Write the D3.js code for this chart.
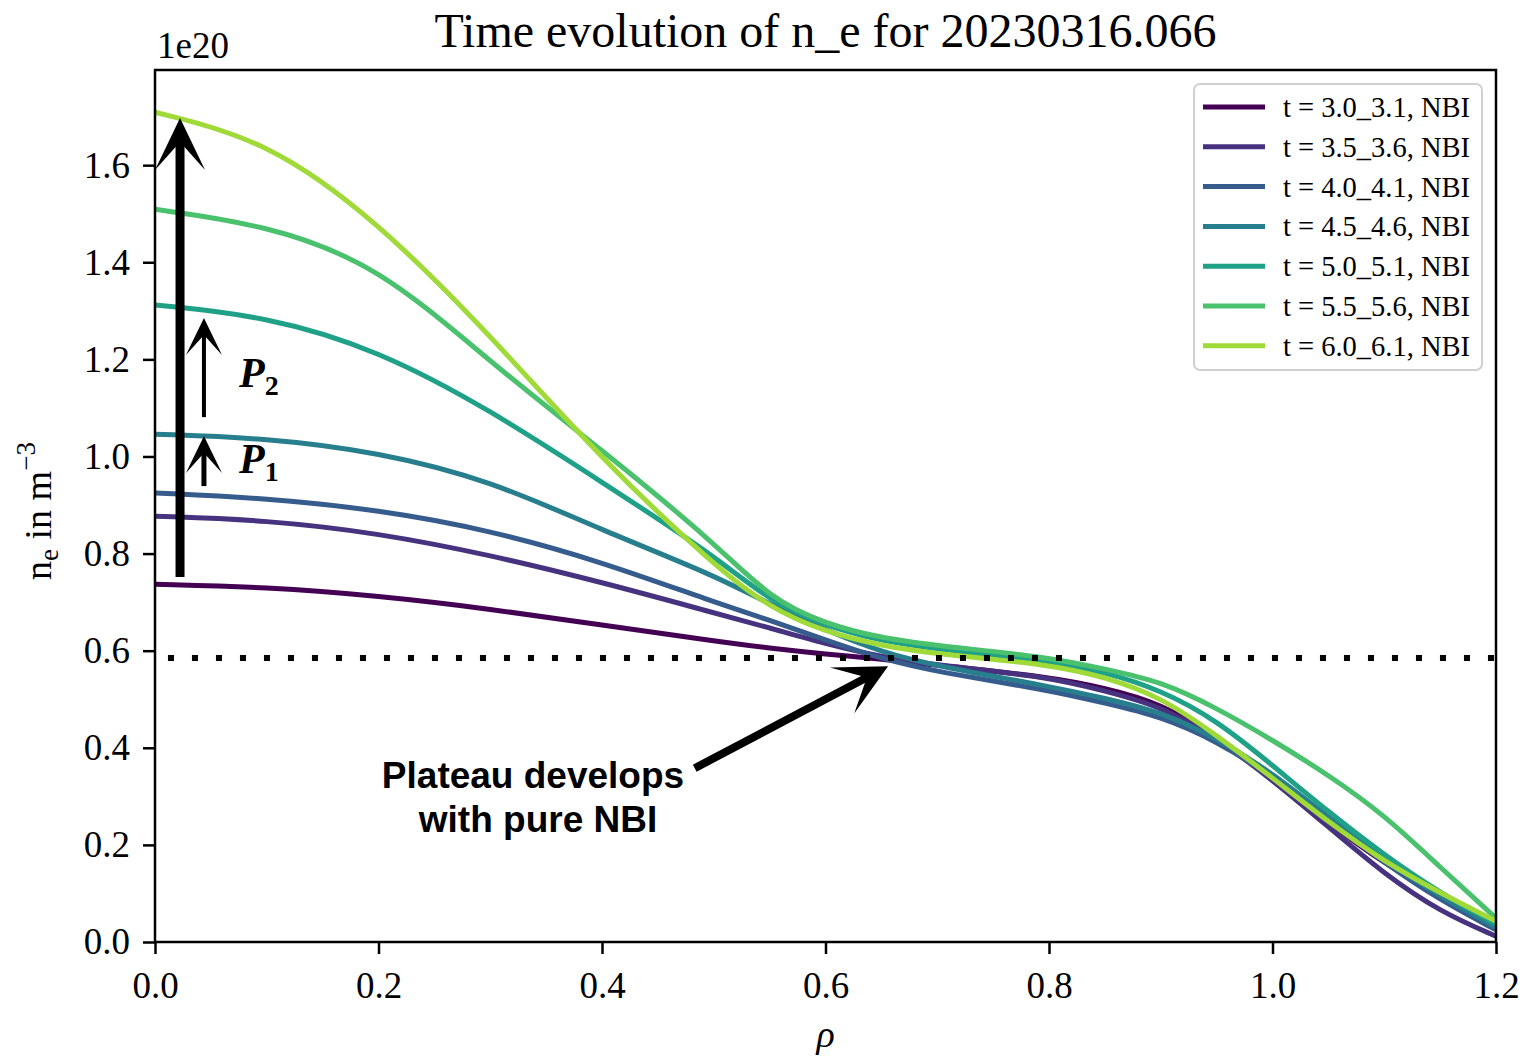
<!DOCTYPE html>
<html>
<head>
<meta charset="utf-8">
<title>Time evolution of n_e</title>
<script src="https://d3js.org/d3.v7.min.js"></script>
<style>
  body { margin: 0; background: #fff; }
  svg { display: block; font-family: "Liberation Serif", "Times New Roman", serif; }
</style>
</head>
<body>
<div id="chart"></div>
<script>
// radial grid shared by every profile
var rho = [0, 0.1, 0.2, 0.3, 0.4, 0.5, 0.55, 0.6, 0.65, 0.7, 0.8, 0.85, 0.9, 0.95, 1.0, 1.05, 1.1, 1.15, 1.2];

// n_e profiles in units of 1e20 m^-3
var ne_30 = [0.737, 0.731, 0.713, 0.686, 0.653, 0.620, 0.605, 0.593, 0.583, 0.570, 0.546, 0.523, 0.492, 0.422, 0.338, 0.245, 0.161, 0.097, 0.035];
var ne_35 = [0.877, 0.869, 0.842, 0.797, 0.741, 0.678, 0.647, 0.614, 0.587, 0.570, 0.546, 0.517, 0.486, 0.420, 0.334, 0.237, 0.140, 0.062, 0.012];
var ne_40 = [0.925, 0.914, 0.890, 0.848, 0.783, 0.700, 0.663, 0.622, 0.583, 0.556, 0.519, 0.492, 0.465, 0.414, 0.342, 0.251, 0.163, 0.086, 0.025];
var ne_45 = [1.046, 1.038, 1.009, 0.951, 0.848, 0.756, 0.696, 0.642, 0.597, 0.568, 0.527, 0.502, 0.474, 0.420, 0.348, 0.257, 0.169, 0.093, 0.031];
var ne_50 = [1.312, 1.289, 1.219, 1.096, 0.947, 0.797, 0.702, 0.651, 0.620, 0.603, 0.579, 0.556, 0.519, 0.457, 0.364, 0.268, 0.179, 0.101, 0.037];
var ne_55 = [1.509, 1.477, 1.394, 1.194, 1.013, 0.824, 0.708, 0.655, 0.626, 0.610, 0.587, 0.562, 0.537, 0.482, 0.416, 0.344, 0.262, 0.154, 0.049];
var ne_60 = [1.709, 1.652, 1.483, 1.250, 0.993, 0.776, 0.688, 0.638, 0.610, 0.593, 0.572, 0.546, 0.505, 0.426, 0.338, 0.247, 0.165, 0.101, 0.043];

var profiles = [ne_30, ne_35, ne_40, ne_45, ne_50, ne_55, ne_60];
var labels = ["t = 3.0_3.1, NBI", "t = 3.5_3.6, NBI", "t = 4.0_4.1, NBI", "t = 4.5_4.6, NBI",
              "t = 5.0_5.1, NBI", "t = 5.5_5.6, NBI", "t = 6.0_6.1, NBI"];

var xTicks = [0, 0.2, 0.4, 0.6, 0.8, 1.0, 1.2];
var yTicks = [0, 0.2, 0.4, 0.6, 0.8, 1.0, 1.2, 1.4, 1.6];
var plateauLevel = 0.585;

var width = 1522, height = 1057;
var margin = { top: 70, right: 26, bottom: 115, left: 155 };

var svg = d3.select("#chart").append("svg")
  .attr("width", width)
  .attr("height", height);

var x = d3.scaleLinear().domain([0, 1.2]).range([margin.left, width - margin.right]);
var y = d3.scaleLinear().domain([0, 1.796]).range([height - margin.bottom, margin.top]);
var color = d3.scaleSequential(d3.interpolateViridis).domain([0, profiles.length]);

// profiles
var line = d3.line()
  .x(function(d, i) { return x(rho[i]); })
  .y(function(d) { return y(d); })
  .curve(d3.curveBasis);

svg.selectAll(".profile")
  .data(profiles)
  .enter()
  .append("path")
  .attr("class", "profile")
  .attr("d", line)
  .attr("fill", "none")
  .attr("stroke", function(d, i) { return color(i); })
  .attr("stroke-width", 5);

// plateau level
svg.append("line")
  .attr("x1", x(0.0116)).attr("x2", x(1.2))
  .attr("y1", y(plateauLevel)).attr("y2", y(plateauLevel))
  .attr("stroke", "#000")
  .attr("stroke-width", 6)
  .attr("stroke-dasharray", "6,18");

// arrows
function arrow(x0, y0, x1, y1, shaft, L, W, N) {
  var dx = x1 - x0, dy = y1 - y0, len = Math.hypot(dx, dy);
  var ux = dx / len, uy = dy / len, nx = -uy, ny = ux;
  svg.append("line")
    .attr("x1", x0).attr("y1", y0)
    .attr("x2", x1 - ux * (N - 2)).attr("y2", y1 - uy * (N - 2))
    .attr("stroke", "#000")
    .attr("stroke-width", shaft);
  var pts = [
    [x1, y1],
    [x1 - ux * L + nx * W, y1 - uy * L + ny * W],
    [x1 - ux * N, y1 - uy * N],
    [x1 - ux * L - nx * W, y1 - uy * L - ny * W]
  ];
  svg.append("polygon")
    .attr("points", pts.map(function(p) { return p.join(","); }).join(" "))
    .attr("fill", "#000");
}

arrow(x(0.0224), y(0.752), x(0.0224), y(1.697), 9, 52, 25, 24);
arrow(x(0.0438), y(1.081), x(0.0438), y(1.285), 4, 37, 18, 17);
arrow(x(0.0438), y(0.939), x(0.0438), y(1.042), 5, 37, 18, 17);
arrow(x(0.483), y(0.358), x(0.656), y(0.568), 8, 52, 26, 24);

// P labels
function pLabel(px, py, sub) {
  var t = svg.append("text")
    .attr("x", px).attr("y", py)
    .attr("font-size", 42)
    .attr("fill", "#000");
  t.append("tspan").attr("font-style", "italic").attr("font-weight", "bold").text("P");
  t.append("tspan").attr("font-size", 28).attr("font-weight", "bold").attr("dy", 8).text(sub);
}
pLabel(239, 387, "2");
pLabel(239, 473, "1");

// plateau note
var note = svg.append("text")
  .attr("font-family", "'Liberation Sans', Arial, sans-serif")
  .attr("font-weight", "bold")
  .attr("font-size", 37)
  .attr("text-anchor", "middle")
  .attr("fill", "#000");
note.append("tspan").attr("x", 533).attr("y", 788).text("Plateau develops");
note.append("tspan").attr("x", 538).attr("y", 832).text("with pure NBI");

// axes
var xAxis = svg.append("g")
  .attr("transform", "translate(0," + (height - margin.bottom) + ")")
  .call(d3.axisBottom(x).tickValues(xTicks).tickFormat(d3.format(".1f"))
    .tickSizeInner(12).tickSizeOuter(0).tickPadding(18));

var yAxis = svg.append("g")
  .attr("transform", "translate(" + margin.left + ",0)")
  .call(d3.axisLeft(y).tickValues(yTicks).tickFormat(d3.format(".1f"))
    .tickSizeInner(12).tickSizeOuter(0).tickPadding(13));

[xAxis, yAxis].forEach(function(g) {
  g.select(".domain").remove();
  g.selectAll(".tick line").attr("stroke", "#000").attr("stroke-width", 2.5);
  g.selectAll(".tick text")
    .attr("font-family", "'Liberation Serif', 'Times New Roman', serif")
    .attr("font-size", 37)
    .attr("fill", "#000");
});

// frame
svg.append("rect")
  .attr("x", margin.left).attr("y", margin.top)
  .attr("width", width - margin.left - margin.right)
  .attr("height", height - margin.top - margin.bottom)
  .attr("fill", "none")
  .attr("stroke", "#000")
  .attr("stroke-width", 2.5);

// offset text, title, axis labels
svg.append("text")
  .attr("x", margin.left + 2).attr("y", 58)
  .attr("font-size", 37)
  .text("1e20");

svg.append("text")
  .attr("x", (margin.left + width - margin.right) / 2).attr("y", 47)
  .attr("text-anchor", "middle")
  .attr("font-size", 48)
  .text("Time evolution of n_e for 20230316.066");

var ylab = svg.append("text")
  .attr("transform", "translate(51,511) rotate(-90)")
  .attr("text-anchor", "middle")
  .attr("font-size", 38);
ylab.append("tspan").text("n");
ylab.append("tspan").attr("font-size", 27).attr("dy", 7).text("e");
ylab.append("tspan").attr("dy", -7).text(" in m");
ylab.append("tspan").attr("font-size", 27).attr("dy", -16).text("\u22123");

svg.append("text")
  .attr("x", (margin.left + width - margin.right) / 2).attr("y", 1047)
  .attr("text-anchor", "middle")
  .attr("font-size", 38)
  .attr("font-style", "italic")
  .text("\u03c1");

// legend
var legend = svg.append("g");
legend.append("rect")
  .attr("x", 1194).attr("y", 84)
  .attr("width", 288).attr("height", 286)
  .attr("rx", 6)
  .attr("fill", "#fff").attr("fill-opacity", 0.8)
  .attr("stroke", "#d0d0d0").attr("stroke-width", 2);

var rows = legend.selectAll(".row")
  .data(labels)
  .enter()
  .append("g")
  .attr("transform", function(d, i) { return "translate(0," + (107 + i * 39.8) + ")"; });

rows.append("line")
  .attr("x1", 1203).attr("x2", 1265)
  .attr("stroke", function(d, i) { return color(i); })
  .attr("stroke-width", 5);

rows.append("text")
  .attr("x", 1283).attr("y", 10)
  .attr("font-size", 28.5)
  .text(function(d) { return d; });
</script>
</body>
</html>
